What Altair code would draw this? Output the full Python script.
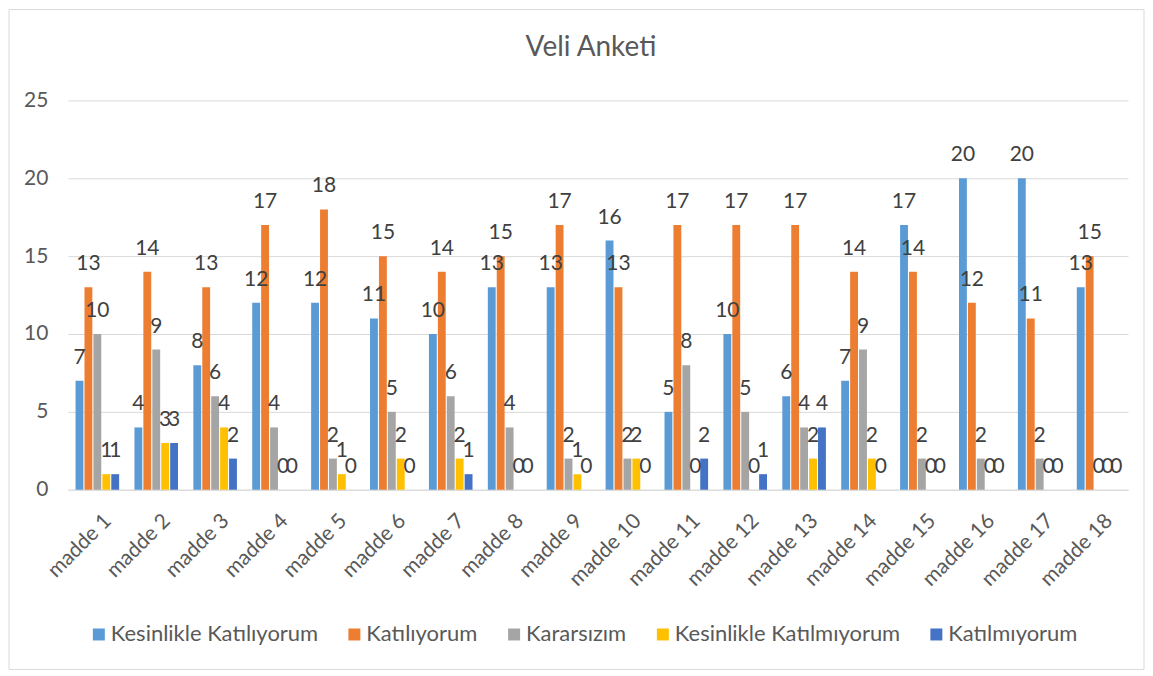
import altair as alt
import pandas as pd

items = [f"madde {i}" for i in range(1, 19)]
series = ["Kesinlikle Katılıyorum", "Katılıyorum", "Kararsızım",
          "Kesinlikle Katılmıyorum", "Katılmıyorum"]
kesinlikle_katiliyorum = [7, 4, 8, 12, 12, 11, 10, 13, 13, 16, 5, 10, 6, 7, 17, 20, 20, 13]
katiliyorum = [13, 14, 13, 17, 18, 15, 14, 15, 17, 13, 17, 17, 17, 14, 14, 12, 11, 15]
kararsizim = [10, 9, 6, 4, 2, 5, 6, 4, 2, 2, 8, 5, 4, 9, 2, 2, 2, 0]
kesinlikle_katilmiyorum = [1, 3, 4, 0, 1, 2, 2, 0, 1, 2, 0, 0, 2, 2, 0, 0, 0, 0]
katilmiyorum = [1, 3, 2, 0, 0, 0, 1, 0, 0, 0, 2, 1, 4, 0, 0, 0, 0, 0]
colors = ["#5B9BD5", "#ED7D31", "#A5A5A5", "#FFC000", "#4472C4"]
y_ticks = [0, 5, 10, 15, 20, 25]

all_vals = [kesinlikle_katiliyorum, katiliyorum, kararsizim,
            kesinlikle_katilmiyorum, katilmiyorum]
rows = []
for i, m in enumerate(items):
    for s, vals in zip(series, all_vals):
        rows.append({"madde": m, "seri": s, "deger": vals[i]})
df = pd.DataFrame(rows)

FONT = "Lato"
GREY = "#595959"

x = alt.X("madde:N", sort=items, title=None,
          scale=alt.Scale(paddingInner=0.26, paddingOuter=0.13),
          axis=alt.Axis(labelAngle=-45, labelFontSize=21, labelColor=GREY,
                        labelFont=FONT, ticks=False, domainColor="#d9d9d9",
                        labelPadding=20, labelOffset=3, grid=False))
xo = alt.XOffset("seri:N", sort=series, scale=alt.Scale(paddingInner=0.12))
y = alt.Y("deger:Q", title=None, scale=alt.Scale(domain=[0, 25]),
          axis=alt.Axis(values=y_ticks, labelFontSize=21, labelColor=GREY,
                        labelFont=FONT, ticks=False, domain=False,
                        gridColor="#d9d9d9", labelPadding=20))
color = alt.Color("seri:N", sort=series,
                  scale=alt.Scale(domain=series, range=colors),
                  legend=alt.Legend(title=None, orient="none", legendX=20,
                                    legendY=524, direction="horizontal",
                                    symbolType="square", symbolSize=144,
                                    symbolStrokeWidth=0, labelFontSize=22,
                                    labelColor=GREY, labelFont=FONT,
                                    labelLimit=0, columnPadding=25,
                                    labelOffset=1))

base = alt.Chart(df)
bars = base.mark_bar().encode(x=x, xOffset=xo, y=y, color=color)
labels = base.mark_text(baseline="alphabetic", dy=-17, fontSize=21,
                        color="#404040", font=FONT).encode(
    x=x, xOffset=xo, y=y, text="deger:Q")

border = alt.Chart(pd.DataFrame({"k": [0]})).mark_rect(
    fill=None, stroke="#d9d9d9", strokeWidth=1).encode(
    x=alt.value(-59), x2=alt.value(1078), y=alt.value(-91), y2=alt.value(570))

chart = alt.layer(border, bars, labels).properties(
    width=1062, height=390,
    title=alt.Title("Veli Anketi", fontSize=28, font=FONT, color=GREY,
                    fontWeight="normal", anchor="middle", offset=-53, dx=-7),
    autosize=alt.AutoSizeParams(type="none"),
    padding={"left": 60, "top": 92, "right": 17, "bottom": 182},
).configure_view(stroke=None)

chart.save("out.html", embed_options={"renderer": "svg", "actions": False})
